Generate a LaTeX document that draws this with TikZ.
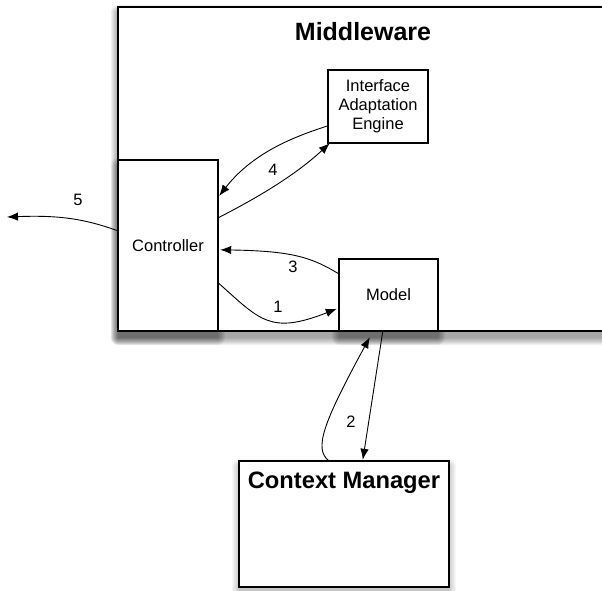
\documentclass[tikz,border=0pt]{standalone}
\usepackage{fontspec}
\setmainfont{Liberation Sans}
\usetikzlibrary{arrows.meta,calc}
\newcommand\boxshadow[2]{%
  \foreach \k in {1,...,8}{%
    \fill[black,opacity=#2,rounded corners=\k pt]
      ($(#1.north west)+(-\k+1,-\k+6)$) rectangle ($(#1.south east)+(\k-1,\k+6)$);
  }%
}
\begin{document}
\begin{tikzpicture}[x=1pt,y=-1pt,
  box/.style={draw=black,fill=white,line width=1.1pt,rectangle,inner sep=0pt,
    align=center,font=\fontsize{16.5}{19}\selectfont},
  conn/.style={line width=0.9pt,-{Latex[length=11pt,width=8.5pt]}},
  num/.style={font=\fontsize{16.5}{19}\selectfont,inner sep=0pt},
  title/.style={font=\bfseries\fontsize{25}{30}\selectfont,inner sep=0pt}]
\useasboundingbox (0,0) rectangle (602,590);
\clip (0,0) rectangle (602,590);
% node geometry (invisible first for shadows)
\path (369,169) node[minimum width=502pt,minimum height=324pt,inner sep=0pt] (mw) {};
\path (168,245.5) node[minimum width=100pt,minimum height=171pt,inner sep=0pt] (ctrl) {};
\path (378,106.5) node[minimum width=100pt,minimum height=73pt,inner sep=0pt] (iae) {};
\path (388.5,295) node[minimum width=99pt,minimum height=72pt,inner sep=0pt] (model) {};
\path (344,524) node[minimum width=210pt,minimum height=126pt,inner sep=0pt] (cm) {};
% shadows
\boxshadow{mw}{0.05}
\boxshadow{ctrl}{0.05}
\boxshadow{model}{0.05}
\boxshadow{cm}{0.03}
% boxes
\node[box,minimum width=502pt,minimum height=324pt] at (mw) {};
\node[title] (mwtitle) at (363,32) {Middleware};
\node[box,minimum width=100pt,minimum height=171pt] at (ctrl) {Controller};
\node[box,minimum width=100pt,minimum height=73pt] at (iae) {Interface\\Adaptation\\Engine};
\node[box,minimum width=99pt,minimum height=72pt] at (model) {Model};
\node[box,minimum width=210pt,minimum height=126pt] at (cm) {};
\node[title,font=\bfseries\fontsize{23.7}{28}\selectfont] (cmtitle) at (344,483) {Context Manager};
% connectors
\coordinate (fivetip) at (7,217);
\draw[conn] ($(ctrl.north west)+(0,71)$) .. controls (85,219) and (60,215) .. (fivetip);
\node[num] (l5) at (78,200) {5};
\draw[conn] ($(iae.north west)+(0,56)$) .. controls (300,135) and (255,150) .. ($(ctrl.north east)+(1,36)$);
\draw[conn] ($(ctrl.north east)+(0,58)$) .. controls (245,204) and (290,180) .. ($(iae.south west)+(2,0)$);
\node[num] (l4) at (273,170) {4};
\draw[conn] ($(model.north west)+(0,15)$) .. controls (312,258) and (295,251) .. ($(ctrl.north east)+(2,90)$);
\node[num] (l3) at (293,267) {3};
\draw[conn] ($(ctrl.north east)+(0,123)$) .. controls (260,320) and (270,335) .. ($(model.north west)+(-2,50)$);
\node[num] (l1) at (278,307) {1};
\draw[conn] ($(cm.north west)+(90,0)$) .. controls (314,449) and (322,425) .. ($(model.south west)+(31,6)$);
\draw[conn] ($(model.south west)+(44,0)$) -- ($(cm.north west)+(124,-1)$);
\node[num] (l2) at (351,422) {2};
\end{tikzpicture}
\end{document}
